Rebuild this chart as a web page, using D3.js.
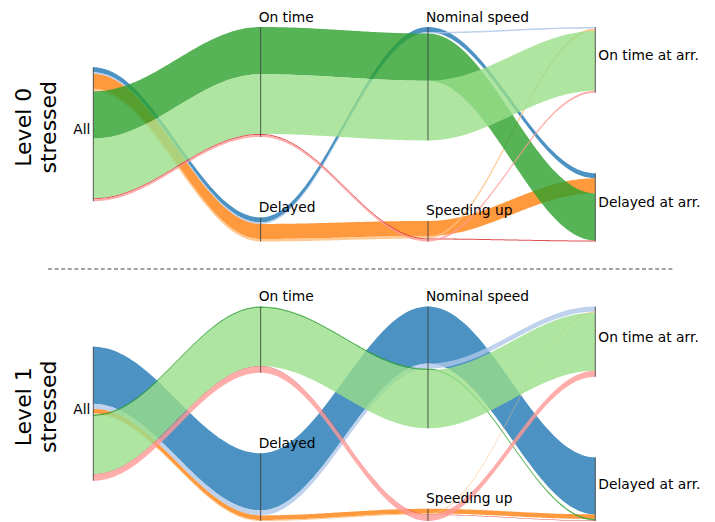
<!DOCTYPE html>
<html>
<head>
<meta charset="utf-8">
<script src="https://cdn.jsdelivr.net/npm/d3@7"></script>
<style>
  body { margin: 0; background: #fff; }
  svg { display: block; font-family: "DejaVu Sans", sans-serif; }
</style>
</head>
<body>
<div class="chart"></div>
<script>

// axes of the parallel sets, left to right
var axisNames = ["All", "Departure", "Speed", "Arrival"];
var axisCats = [
    ["All"],
    ["On time", "Delayed"],
    ["Nominal speed", "Speeding up"],
    ["On time at arr.", "Delayed at arr."]
];

// the 8 paths (departure, speed, arrival), in colour order
var pathDep   = ["Delayed", "Delayed", "Delayed", "Delayed", "On time", "On time", "On time", "On time"];
var pathSpeed = ["Nominal speed", "Nominal speed", "Speeding up", "Speeding up",
                 "Nominal speed", "Nominal speed", "Speeding up", "Speeding up"];
var pathArr   = ["Delayed at arr.", "On time at arr.", "Delayed at arr.", "On time at arr.",
                 "Delayed at arr.", "On time at arr.", "Delayed at arr.", "On time at arr."];
var pathColors = ["#1f77b4", "#aec7e8", "#ff7f0e", "#ffbb78",
                  "#2ca02c", "#98df8a", "#d62728", "#ff9896"];

// counts per path, one array per panel
var rowLabels = [["Level 0", "stressed"], ["Level 1", "stressed"]];
var level0Counts = [5, 1.5, 15, 2.5, 47, 59.5, 1, 2];
var level1Counts = [56, 5, 4.5, 1, 1.5, 57, 0.5, 6];
var panelCounts = [level0Counts, level1Counts];

// layout
var width = 715, height = 522;
var panelTops = [27, 306.5];
var panelHeight = 214.5;
var bandPx = 134;

var svg = d3.select(".chart")
    .append("svg")
    .attr("width", width)
    .attr("height", height);

var x = d3.scalePoint()
    .domain(axisNames)
    .range([93.3, 595.3]);

// smooth s-shaped transition between two axes
function ease(t) { return (1 - Math.cos(Math.PI * t)) / 2; }

function pathCat(p, a) {
    if (a == 0) return "All";
    if (a == 1) return pathDep[p];
    if (a == 2) return pathSpeed[p];
    return pathArr[p];
}

panelCounts.forEach(function(counts, panel) {

    var y0 = panelTops[panel];
    var total = d3.sum(counts);
    var h = d3.scaleLinear().domain([0, total]).range([0, bandPx]);

    // top of each category and of each path inside it
    var catTop = [], pathTop = [];
    axisCats.forEach(function(cats, a) {
        var sizes = cats.map(function(c) {
            return d3.sum(counts.filter(function(d, p) { return pathCat(p, a) == c; }));
        });
        var gap = cats.length > 1 ? (panelHeight - bandPx) / (cats.length - 1) : 0;
        var pos = cats.length > 1 ? y0 : y0 + (panelHeight - bandPx) / 2;
        var tops = {};
        cats.forEach(function(c, i) {
            tops[c] = { y: pos, h: h(sizes[i]) };
            pos += h(sizes[i]) + gap;
        });
        catTop.push(tops);

        var cursor = {};
        cats.forEach(function(c) { cursor[c] = tops[c].y; });
        var pt = [];
        counts.forEach(function(d, p) {
            var c = pathCat(p, a);
            pt.push(cursor[c]);
            cursor[c] += h(d);
        });
        pathTop.push(pt);
    });

    var area = d3.area()
        .x(function(d) { return d.x; })
        .y0(function(d) { return d.y; })
        .y1(function(d) { return d.y + d.h; });

    var g = svg.append("g");

    // bands, segment by segment
    for (var a = 0; a < axisNames.length - 1; a++) {
        var xa = x(axisNames[a]), xb = x(axisNames[a + 1]);
        counts.forEach(function(d, p) {
            var ya = pathTop[a][p], yb = pathTop[a + 1][p];
            var pts = d3.range(0, 61).map(function(i) {
                var t = i / 60;
                return { x: xa + (xb - xa) * t, y: ya + (yb - ya) * ease(t), h: h(d) };
            });
            g.append("path")
                .attr("d", area(pts))
                .attr("fill", pathColors[p])
                .attr("fill-opacity", 0.8);
        });
    }

    // axis lines and labels
    axisCats.forEach(function(cats, a) {
        var xp = x(axisNames[a]);
        cats.forEach(function(c) {
            var t = catTop[a][c];
            g.append("line")
                .attr("x1", xp).attr("x2", xp)
                .attr("y1", t.y).attr("y2", t.y + t.h)
                .attr("stroke", "#333")
                .attr("stroke-opacity", 0.8)
                .attr("stroke-width", 1);

            var label = g.append("text")
                .text(c)
                .attr("font-size", "13.8px")
                .attr("fill", "#000");
            if (a == 0) {
                label.attr("x", xp - 3).attr("y", t.y + t.h / 2).attr("text-anchor", "end");
            } else if (a == axisNames.length - 1) {
                label.attr("x", xp + 3).attr("y", t.y + t.h / 2);
            } else {
                label.attr("x", xp - 2).attr("y", t.y - 5.5);
            }
        });
    });

    // row label, rotated
    var yc = y0 + panelHeight / 2 - 7;
    var rl = svg.append("text")
        .attr("transform", "translate(0," + yc + ") rotate(-90)")
        .attr("text-anchor", "middle")
        .attr("font-size", "22px")
        .attr("fill", "#000");
    rowLabels[panel].forEach(function(s, i) {
        rl.append("tspan").attr("x", 0).attr("y", 31 + i * 25).text(s);
    });
});

// dashed separator between the two panels
svg.append("line")
    .attr("x1", 48).attr("x2", 675)
    .attr("y1", 269).attr("y2", 269)
    .attr("stroke", "#444")
    .attr("stroke-width", 1)
    .attr("stroke-dasharray", "4,2.6");

</script>
</body>
</html>
